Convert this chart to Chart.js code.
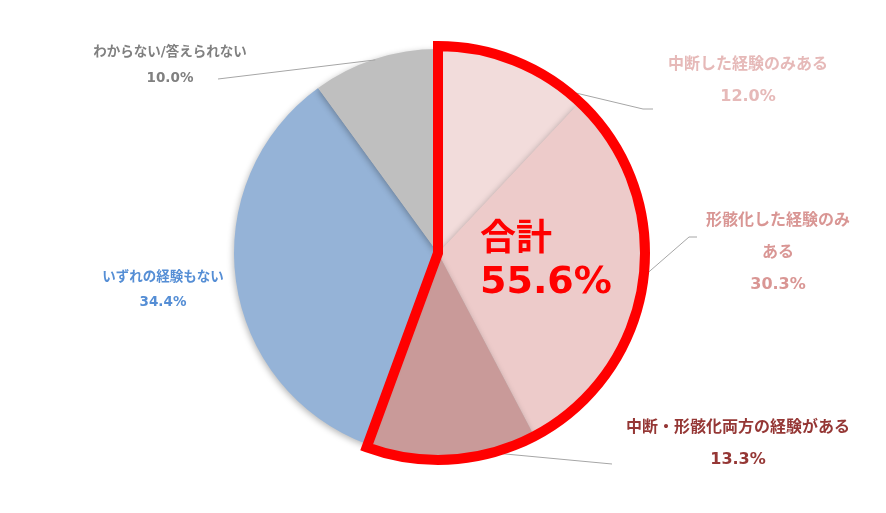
<!DOCTYPE html>
<html>
<head>
<meta charset="utf-8">
<script src="https://cdn.jsdelivr.net/npm/chart.js@4"></script>
<style>
  body { margin: 0; background: #fff; }
  #wrap { width: 886px; height: 513px; }
</style>
</head>
<body>
<div id="wrap"><canvas id="myChart" width="886" height="513"></canvas></div>
<script>
const categories = [
  "中断した経験のみある",
  "形骸化した経験のみある",
  "中断・形骸化両方の経験がある",
  "いずれの経験もない",
  "わからない/答えられない",
];
const values = [12.0, 30.3, 13.3, 34.4, 10.0];
const sliceColors = ["#F2DCDB", "#EDCBCA", "#C99A99", "#95B3D7", "#BFBFBF"];
const totalLabel = ["合計", "55.6%"];
const highlighted = [0, 1, 2];

// label lines shown next to each slice (text wraps like the original)
const labelLines = [
  ["中断した経験のみある", "12.0%"],
  ["形骸化した経験のみ", "ある", "30.3%"],
  ["中断・形骸化両方の経験がある", "13.3%"],
  ["いずれの経験もない", "34.4%"],
  ["わからない/答えられない", "10.0%"],
];
const labelColors = ["#E6B9B8", "#D99694", "#953735", "#558ED5", "#808080"];
const labelFont = [16, 16, 16, 13.5, 13.5];
// label position relative to pie centre, line spacing
const labelPos = [
  { dx: 310, dy: -188, gap: 32 },
  { dx: 340, dy: -32, gap: 32 },
  { dx: 300, dy: 175, gap: 32 },
  { dx: -275, dy: 24, gap: 25 },
  { dx: -268, dy: -201, gap: 26 },
];
// leader line: [x, y] points relative to centre, then fraction of slice on edge
const leaders = [
  { pts: [[215, -144], [205, -144]], frac: 0.83 },
  { pts: [[259, -16], [251, -16]], frac: 0.5 },
  { pts: [[174, 211]], frac: 0.33 },
  null,
  { pts: [[-220, -174]], frac: 0.5 },
];

const ctx = document.getElementById("myChart").getContext("2d");
const JP = '"DejaVu Sans", "Noto Sans CJK JP", sans-serif';

const shadowPlugin = {
  id: "shadow",
  beforeDatasetsDraw(chart) {
    const c = chart.ctx;
    c.save();
    c.shadowColor = "rgba(0,0,0,0.28)";
    c.shadowBlur = 6;
    c.shadowOffsetX = -1;
    c.shadowOffsetY = 2;
  },
  afterDatasetsDraw(chart) {
    chart.ctx.restore();
  },
};

const overlayPlugin = {
  id: "overlay",
  afterDraw(chart) {
    const c = chart.ctx;
    const arcs = chart.getDatasetMeta(0).data;
    const cx = arcs[0].x, cy = arcs[0].y, r = arcs[0].outerRadius;

    // leader lines
    c.save();
    c.strokeStyle = "#A6A6A6";
    c.lineWidth = 1;
    leaders.forEach((ld, i) => {
      if (!ld) return;
      const a = arcs[i];
      const ang = a.startAngle + ld.frac * (a.endAngle - a.startAngle);
      c.beginPath();
      c.moveTo(cx + ld.pts[0][0], cy + ld.pts[0][1]);
      for (const p of ld.pts.slice(1)) c.lineTo(cx + p[0], cy + p[1]);
      c.lineTo(cx + Math.cos(ang) * (r - 1), cy + Math.sin(ang) * (r - 1));
      c.stroke();
    });
    c.restore();

    // red outline round the highlighted slices
    const first = arcs[highlighted[0]];
    const last = arcs[highlighted[highlighted.length - 1]];
    const rr = r + 3;
    c.save();
    c.strokeStyle = "#FF0000";
    c.lineWidth = 10;
    c.lineJoin = "miter";
    c.beginPath();
    c.moveTo(cx, cy);
    c.lineTo(cx + Math.cos(first.startAngle) * rr, cy + Math.sin(first.startAngle) * rr);
    c.arc(cx, cy, rr, first.startAngle, last.endAngle);
    c.closePath();
    c.stroke();
    c.restore();

    // total text
    c.save();
    c.fillStyle = "#FF0000";
    c.textAlign = "left";
    c.textBaseline = "alphabetic";
    c.font = "bold 36px " + JP;
    c.fillText(totalLabel[0], cx + 42, cy - 3);
    c.font = "bold 38px " + JP;
    c.fillText(totalLabel[1], cx + 42, cy + 40);
    c.restore();

    // slice labels
    c.save();
    c.textAlign = "center";
    c.textBaseline = "middle";
    labelLines.forEach((lines, i) => {
      c.fillStyle = labelColors[i];
      c.font = "bold " + labelFont[i] + "px " + JP;
      const p = labelPos[i];
      lines.forEach((t, k) => {
        c.fillText(t, cx + p.dx, cy + p.dy + k * p.gap);
      });
    });
    c.restore();
  },
};

new Chart(ctx, {
  type: "pie",
  data: {
    labels: categories,
    datasets: [
      {
        data: values,
        backgroundColor: sliceColors,
        borderWidth: 0,
      },
    ],
  },
  options: {
    responsive: false,
    animation: false,
    layout: { padding: { top: 49, bottom: 56, left: 234, right: 244 } },
    plugins: {
      legend: { display: false },
      tooltip: { enabled: false },
    },
  },
  plugins: [shadowPlugin, overlayPlugin],
});
</script>
</body>
</html>
